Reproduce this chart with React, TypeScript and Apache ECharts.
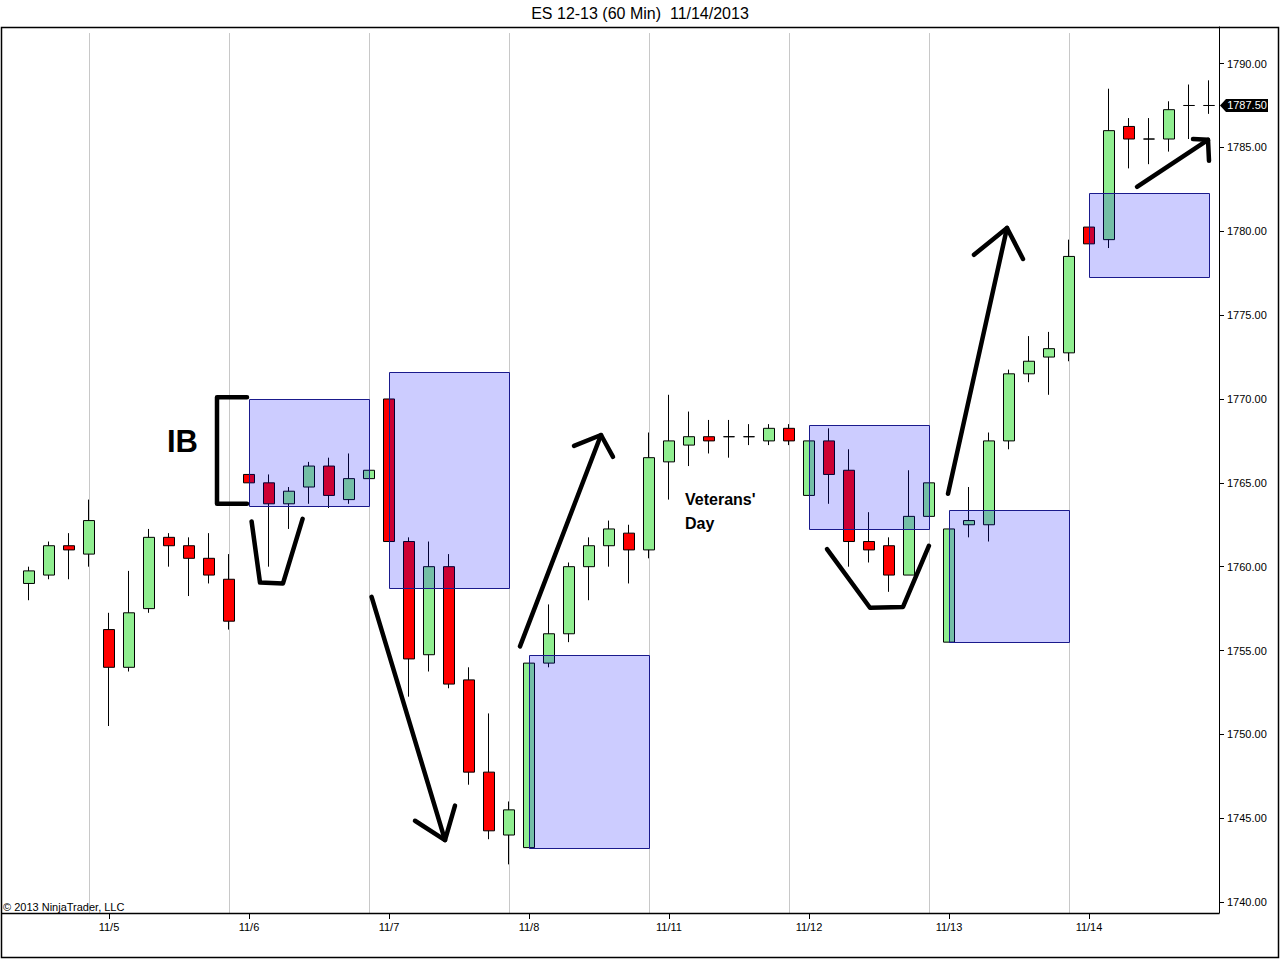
import React, { useEffect, useRef } from "react";
import * as echarts from "echarts";

// ---- DATA ----
const dayLabels = ["11/4", "11/5", "11/6", "11/7", "11/8", "11/11", "11/12", "11/13", "11/14"];
const sessionHours = ["10:30", "11:30", "12:30", "13:30", "14:30", "15:30", "16:15"];
const firstDayHours = ["13:30", "14:30", "15:30", "16:15"];

const categories: string[] = [];
dayLabels.forEach((d, di) => {
  (di === 0 ? firstDayHours : sessionHours).forEach((h) => categories.push(d + " " + h));
});

const opens = [
  1759.0, 1759.5, 1761.25, 1760.75,
  1756.25, 1754.0, 1757.5, 1761.75, 1761.25, 1760.5, 1759.25,
  1765.5, 1765.0, 1763.75, 1764.75, 1766.0, 1764.0, 1765.25,
  1770.0, 1761.5, 1754.75, 1760.0, 1753.25, 1747.75, 1744.0,
  1743.25, 1754.25, 1756.0, 1760.0, 1761.25, 1762.0, 1761.0,
  1766.25, 1767.25, 1767.75, 1767.75, 1767.75, 1767.5, 1768.25,
  1764.25, 1767.5, 1765.75, 1761.5, 1761.25, 1759.5, 1763.0,
  1755.5, 1762.5, 1762.5, 1767.5, 1771.5, 1772.5, 1772.75,
  1780.25, 1779.5, 1786.25, 1785.5, 1785.5, 1787.5, 1787.5,
];
const closes = [
  1759.75, 1761.25, 1761.0, 1762.75,
  1754.0, 1757.25, 1761.75, 1761.25, 1760.5, 1759.5, 1756.75,
  1765.0, 1763.75, 1764.5, 1766.0, 1764.25, 1765.25, 1765.75,
  1761.5, 1754.5, 1760.0, 1753.0, 1747.75, 1744.25, 1745.5,
  1754.25, 1756.0, 1760.0, 1761.25, 1762.25, 1761.0, 1766.5,
  1767.5, 1767.75, 1767.5, 1767.75, 1767.75, 1768.25, 1767.5,
  1767.5, 1765.5, 1761.5, 1761.0, 1759.5, 1763.0, 1765.0,
  1762.25, 1762.75, 1767.5, 1771.5, 1772.25, 1773.0, 1778.5,
  1779.25, 1786.0, 1785.5, 1785.5, 1787.25, 1787.5, 1787.5,
];
const lows = [
  1758.0, 1759.25, 1759.25, 1760.0,
  1750.5, 1753.75, 1757.25, 1760.0, 1758.25, 1759.0, 1756.25,
  1765.0, 1760.0, 1762.25, 1763.75, 1763.5, 1763.75, 1765.25,
  1761.5, 1752.25, 1753.75, 1752.75, 1747.0, 1743.75, 1742.25,
  1743.25, 1754.0, 1755.5, 1758.0, 1760.0, 1759.0, 1760.5,
  1764.0, 1766.0, 1766.75, 1766.5, 1767.25, 1767.25, 1767.25,
  1764.25, 1763.75, 1760.0, 1760.25, 1758.5, 1759.5, 1763.0,
  1755.5, 1761.75, 1761.5, 1767.0, 1771.0, 1770.25, 1772.25,
  1779.25, 1779.0, 1783.75, 1784.0, 1784.75, 1785.5, 1787.0,
];
const highs = [
  1760.0, 1761.5, 1762.0, 1764.0,
  1757.25, 1759.75, 1762.25, 1762.0, 1761.75, 1762.0, 1760.75,
  1765.5, 1765.5, 1764.75, 1766.25, 1766.5, 1766.75, 1765.75,
  1770.0, 1761.75, 1761.5, 1760.75, 1754.0, 1751.25, 1746.0,
  1754.25, 1757.75, 1760.25, 1761.75, 1762.75, 1762.5, 1768.0,
  1770.25, 1769.25, 1768.75, 1768.75, 1768.5, 1768.5, 1768.5,
  1767.5, 1768.25, 1767.0, 1763.25, 1761.75, 1765.75, 1765.0,
  1762.25, 1764.75, 1768.0, 1771.75, 1773.75, 1774.0, 1779.5,
  1780.25, 1788.5, 1786.75, 1786.75, 1787.75, 1788.75, 1789.0,
];

const yTickValues = [1740, 1745, 1750, 1755, 1760, 1765, 1770, 1775, 1780, 1785, 1790];
const lastPrice = 1787.5;

// Day-separator bars (last bar of each session)
const separatorIdx = [3, 10, 17, 24, 31, 38, 45, 52];

// Initial-balance boxes: [startBar, endBar, top, bottom]
const ibBoxes: [number, number, number, number][] = [
  [11, 17, 1770.0, 1763.6],
  [18, 24, 1771.6, 1758.75],
  [25, 31, 1754.75, 1743.25],
  [39, 45, 1768.45, 1762.25],
  [46, 52, 1763.4, 1755.5],
  [53, 59, 1782.3, 1777.3],
];

// Hand-drawn annotations, in [bar index, price]
const bracketIB = [[10.9, 1770.1], [9.4, 1770.1], [9.4, 1763.75], [10.9, 1763.75]];
const uShape = [[11.13, 1762.7], [11.55, 1759.05], [12.7, 1759.0], [13.68, 1762.85]];
const vShape = [[39.9, 1761.05], [42.05, 1757.55], [43.7, 1757.6], [45.0, 1761.25]];
const arrows = [
  { shaft: [[17.13, 1758.2], [20.8, 1743.7]], head: [[19.3, 1744.85], [20.8, 1743.7], [21.3, 1745.75]] },
  { shaft: [[24.55, 1755.25], [28.6, 1767.85]], head: [[27.25, 1767.2], [28.6, 1767.85], [29.2, 1766.55]] },
  { shaft: [[45.95, 1764.35], [48.9, 1780.2]], head: [[47.25, 1778.6], [48.9, 1780.2], [49.7, 1778.35]] },
  { shaft: [[55.4, 1782.65], [58.95, 1785.45]], head: [[58.2, 1785.5], [58.95, 1785.45], [59.0, 1784.2]] },
];
const ibLabelPos = [7.675, 1767.45];
const veteransPos = [32.8, 1764.0];
const veteransPos2 = [32.8, 1762.6];

const FONT = "'Liberation Sans', Arial, sans-serif";

export default function App() {
  const ref = useRef<HTMLDivElement>(null);

  useEffect(() => {
    if (!ref.current) return;
    const chart = echarts.init(ref.current, undefined, { renderer: "svg" });

    const isDayStart = (i: number) => categories[i].endsWith(" 10:30");
    const candleData = opens.map((o, i) => [o, closes[i], lows[i], highs[i]]);

    chart.setOption({
      animation: false,
      backgroundColor: "#ffffff",
      title: {
        text: "ES 12-13 (60 Min)  11/14/2013",
        left: "center",
        top: 0,
        textStyle: { fontFamily: FONT, fontSize: 16, fontWeight: "normal", color: "#000" },
      },
      grid: { left: 19, top: 27, width: 1200, height: 886, containLabel: false },
      xAxis: {
        type: "category",
        data: categories,
        boundaryGap: true,
        axisLine: { show: false },
        axisTick: {
          show: true,
          alignWithLabel: true,
          interval: (i: number) => isDayStart(i),
          length: 6,
          lineStyle: { color: "#000" },
        },
        axisLabel: {
          interval: (i: number) => isDayStart(i),
          formatter: (v: string) => v.split(" ")[0],
          fontFamily: FONT,
          fontSize: 11,
          color: "#000",
          margin: 8,
        },
        splitLine: { show: false },
      },
      yAxis: {
        type: "value",
        position: "right",
        min: 1739.35,
        max: 1792.18,
        scale: true,
        axisLine: { show: true, lineStyle: { color: "#000" } },
        axisTick: { show: true, length: 5, customValues: yTickValues, lineStyle: { color: "#000" } },
        axisLabel: {
          customValues: yTickValues,
          formatter: (v: number) => v.toFixed(2),
          fontFamily: FONT,
          fontSize: 11,
          color: "#000",
          margin: 8,
        },
        splitLine: { show: false },
      },
      series: [
        {
          type: "custom",
          z: 1,
          silent: true,
          encode: { x: 0, y: [1, 2] },
          data: separatorIdx.map((i) => [categories[i], 1791.82, 1739.35]),
          renderItem: (params: any, api: any) => {
            const a = api.coord([api.value(0), api.value(1)]);
            const b = api.coord([api.value(0), api.value(2)]);
            const x = Math.round(a[0]) + 0.5;
            return {
              type: "line",
              shape: { x1: x, y1: a[1], x2: x, y2: b[1] },
              style: { stroke: "#c8c8c8", lineWidth: 1 },
            };
          },
        },
        {
          type: "candlestick",
          z: 2,
          barWidth: 12,
          data: candleData,
          itemStyle: {
            color: "#90EE90",
            color0: "#FF0000",
            borderColor: "#000000",
            borderColor0: "#000000",
            borderColorDoji: "#000000",
            borderWidth: 1,
          },
        },
        {
          type: "custom",
          z: 5,
          silent: true,
          encode: { x: [0, 1], y: [2, 3] },
          data: ibBoxes.map((b) => [categories[b[0]], categories[b[1]], b[2], b[3]]),
          renderItem: (params: any, api: any) => {
            const p0 = api.coord([api.value(0), api.value(2)]);
            const p1 = api.coord([api.value(1), api.value(3)]);
            return {
              type: "rect",
              shape: {
                x: Math.round(p0[0]) + 0.5,
                y: Math.round(p0[1]) + 0.5,
                width: Math.round(p1[0] - p0[0]),
                height: Math.round(p1[1] - p0[1]),
              },
              style: { fill: "rgba(0,0,255,0.2)", stroke: "#1a1a8c", lineWidth: 1 },
            };
          },
        },
      ],
    });

    // Convert [bar index (fractional), price] to pixels with the chart's own scales
    const x0 = chart.convertToPixel({ xAxisIndex: 0 }, categories[0]) as number;
    const xN = chart.convertToPixel({ xAxisIndex: 0 }, categories[categories.length - 1]) as number;
    const step = (xN - x0) / (categories.length - 1);
    const px = (p: number[]) => [
      x0 + p[0] * step,
      chart.convertToPixel({ yAxisIndex: 0 }, p[1]) as number,
    ];

    const stroke = { stroke: "#000", lineWidth: 4.5, lineCap: "round", lineJoin: "round", fill: null };
    const poly = (pts: number[][]) => ({
      type: "polyline",
      z: 20,
      silent: true,
      shape: { points: pts.map(px) },
      style: stroke,
    });

    const ly = chart.convertToPixel({ yAxisIndex: 0 }, lastPrice) as number;
    const ibp = px(ibLabelPos);
    const vp1 = px(veteransPos);
    const vp2 = px(veteransPos2);

    const graphics: any[] = [
      // frames
      { type: "rect", z: 30, silent: true, shape: { x: 1.5, y: 27.5, width: 1277, height: 930 }, style: { fill: null, stroke: "#000", lineWidth: 1.5 } },
      { type: "line", z: 30, silent: true, shape: { x1: 1.5, y1: 913.5, x2: 1219.5, y2: 913.5 }, style: { stroke: "#000", lineWidth: 1.5 } },
      // copyright
      {
        type: "text", z: 30, silent: true, x: 3, y: 907,
        style: { text: "© 2013 NinjaTrader, LLC", fontFamily: FONT, fontSize: 11, fill: "#000", verticalAlign: "middle", align: "left" },
      },
      // price tag
      {
        type: "polygon", z: 30, silent: true,
        shape: { points: [[1220, ly], [1226, ly - 6.5], [1268, ly - 6.5], [1268, ly + 6.5], [1226, ly + 6.5]] },
        style: { fill: "#000" },
      },
      {
        type: "text", z: 31, silent: true, x: 1247, y: ly,
        style: { text: lastPrice.toFixed(2), fontFamily: FONT, fontSize: 11, fill: "#fff", align: "center", verticalAlign: "middle" },
      },
      poly(bracketIB),
      poly(uShape),
      poly(vShape),
      ...arrows.flatMap((a) => [poly(a.shaft), poly(a.head)]),
      {
        type: "text", z: 20, silent: true, x: ibp[0], y: ibp[1],
        style: { text: "IB", fontFamily: FONT, fontSize: 31, fontWeight: "bold", fill: "#000", align: "center", verticalAlign: "middle" },
      },
      {
        type: "text", z: 20, silent: true, x: vp1[0], y: vp1[1],
        style: { text: "Veterans'", fontFamily: FONT, fontSize: 16, fontWeight: "bold", fill: "#000", align: "left", verticalAlign: "middle" },
      },
      {
        type: "text", z: 20, silent: true, x: vp2[0], y: vp2[1],
        style: { text: "Day", fontFamily: FONT, fontSize: 16, fontWeight: "bold", fill: "#000", align: "left", verticalAlign: "middle" },
      },
    ];

    chart.setOption({ graphic: graphics });

    return () => chart.dispose();
  }, []);

  return (
    <div
      ref={ref}
      style={{ position: "fixed", left: 0, top: 0, width: 1280, height: 959, background: "#fff" }}
    />
  );
}
